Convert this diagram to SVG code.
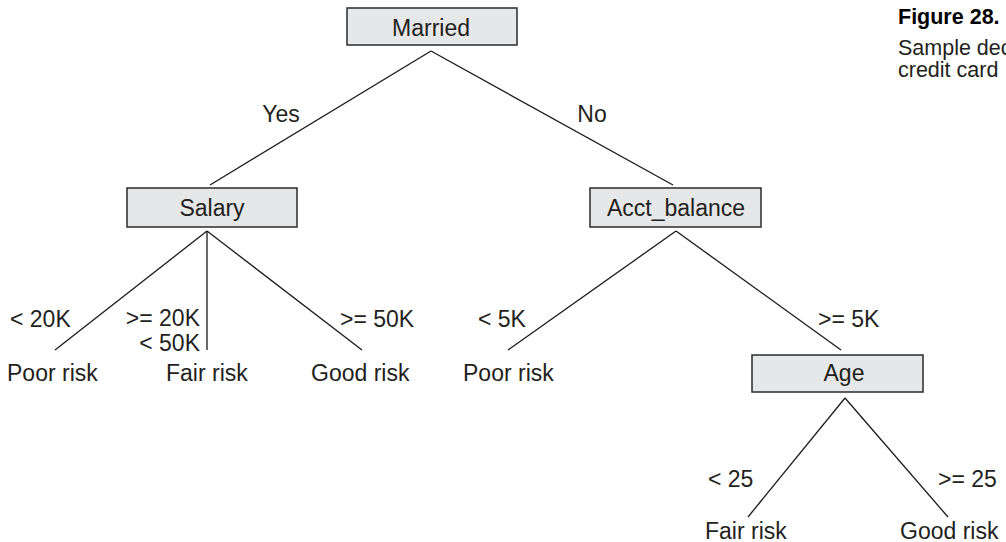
<svg xmlns="http://www.w3.org/2000/svg" width="1006" height="542" viewBox="0 0 1006 542">
<style>
text{font-family:"Liberation Sans",Arial,Helvetica,sans-serif;font-size:23px;fill:#231f20}
.box{fill:#e6e7e8;stroke:#2b2b2b;stroke-width:1.5}
.c{text-anchor:middle}
.e{text-anchor:end}
.edge{stroke:#1a1a1a;stroke-width:1.3;fill:none}
.cap{font-size:21.5px}
</style>
<rect width="1006" height="542" fill="#fff"/>
<g id="connectors">
<line class="edge" x1="431" y1="51" x2="210" y2="185"/>
<line class="edge" x1="431" y1="51" x2="673" y2="185"/>
<line class="edge" x1="207" y1="231" x2="55" y2="350"/>
<line class="edge" x1="207" y1="231" x2="207" y2="350"/>
<line class="edge" x1="207" y1="231" x2="362" y2="350"/>
<line class="edge" x1="676" y1="231" x2="508" y2="350"/>
<line class="edge" x1="676" y1="231" x2="841" y2="350"/>
<line class="edge" x1="845" y1="398" x2="748" y2="517"/>
<line class="edge" x1="845" y1="398" x2="948" y2="517"/>
</g>
<g id="edge-labels">
<text x="281" y="122" class="c">Yes</text>
<text x="592" y="122" class="c">No</text>
<text x="10" y="327">&lt; 20K</text>
<text x="200" y="326" class="e">&gt;= 20K</text>
<text x="200" y="351" class="e">&lt; 50K</text>
<text x="340" y="327">&gt;= 50K</text>
<text x="478" y="327">&lt; 5K</text>
<text x="818" y="327">&gt;= 5K</text>
<text x="708" y="487">&lt; 25</text>
<text x="938" y="487">&gt;= 25</text>
</g>
<g id="node-married">
<rect class="box" x="347" y="8" width="170" height="37"/>
<text x="431" y="36" class="c">Married</text>
</g>
<g id="node-salary">
<rect class="box" x="127" y="188" width="170" height="39"/>
<text x="212" y="216" class="c">Salary</text>
</g>
<g id="node-acct">
<rect class="box" x="590" y="188" width="171" height="39"/>
<text x="676" y="216" class="c">Acct_balance</text>
</g>
<g id="node-age">
<rect class="box" x="752" y="355" width="171" height="37"/>
<text x="844" y="381" class="c">Age</text>
</g>
<g id="leaf-poor1"><text x="7" y="381">Poor risk</text></g>
<g id="leaf-fair1"><text x="166" y="381">Fair risk</text></g>
<g id="leaf-good1"><text x="311" y="381">Good risk</text></g>
<g id="leaf-poor2"><text x="463" y="381">Poor risk</text></g>
<g id="leaf-fair2"><text x="705" y="539">Fair risk</text></g>
<g id="leaf-good2"><text x="900" y="539">Good risk</text></g>
<g id="caption">
<text x="898" y="24" class="cap" font-weight="bold" style="fill:#000">Figure 28.</text>
<text x="898" y="55" class="cap">Sample dec</text>
<text x="898" y="77" class="cap">credit card</text>
</g>
</svg>
